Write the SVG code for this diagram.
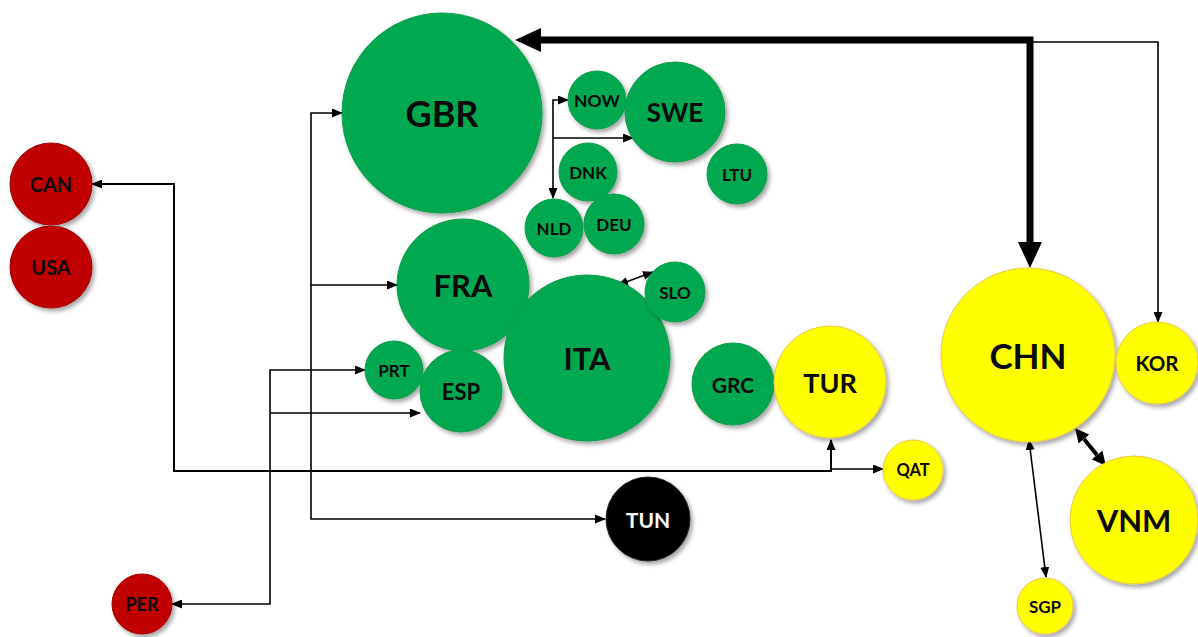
<svg xmlns="http://www.w3.org/2000/svg" width="1198" height="637" viewBox="0 0 1198 637">
<style>
.g{fill:#00A94F;stroke:#0E9B4A;stroke-width:1}
.y{fill:#FFFF00;stroke:#E8C84A;stroke-width:1}
.r{fill:#C00000;stroke:#A00000;stroke-width:1}
.k{fill:#000000;stroke:#222222;stroke-width:1}
.n circle{filter:url(#sh)}
text{font-family:Lato,"Open Sans","Liberation Sans",sans-serif;font-weight:bold;text-anchor:middle;dominant-baseline:central;fill:#0a0a0a}
.w{fill:#ffffff}
.c{fill:none;stroke:#000;stroke-width:1.6}
.c2{fill:none;stroke:#000;stroke-width:4}
.c3{fill:none;stroke:#000;stroke-width:7}
</style>
<defs>
<filter id="sh" x="-20%" y="-20%" width="150%" height="150%">
<feDropShadow dx="2.5" dy="3" stdDeviation="2.2" flood-color="#000" flood-opacity="0.35"/>
</filter>
<marker id="a" markerUnits="userSpaceOnUse" markerWidth="11" markerHeight="9" refX="10" refY="4.5" orient="auto-start-reverse"><path d="M0,0 L11,4.5 L0,9 z" fill="#000"/></marker>
<marker id="am" markerUnits="userSpaceOnUse" markerWidth="14" markerHeight="14" refX="0" refY="7" orient="auto-start-reverse"><path d="M0,0 L14,7 L0,14 z" fill="#000"/></marker>
<marker id="at" markerUnits="userSpaceOnUse" markerWidth="26" markerHeight="24" refX="0" refY="12" orient="auto-start-reverse"><path d="M0,0 L26,12 L0,24 z" fill="#000"/></marker>
</defs>
<g id="connectors">
<path class="c3" d="M541,40 L1030,40 L1030,242" marker-start="url(#at)" marker-end="url(#at)"/>
<path class="c" d="M1030,42 L1158,42 L1158,322" marker-end="url(#a)"/>
<path class="c" d="M342,113 L311,113 L311,519 L605,519" marker-start="url(#a)" marker-end="url(#a)"/>
<path class="c" d="M311,285 L397,285" marker-end="url(#a)"/>
<path class="c" d="M365,370 L270,370 L270,604 L172,604" marker-start="url(#a)" marker-end="url(#a)"/>
<path class="c" d="M270,413 L420,413" marker-end="url(#a)"/>
<path class="c" style="stroke-width:2" d="M92,184 L174,184 L174,471 L831,471 L831,440" marker-start="url(#a)" marker-end="url(#a)"/>
<path class="c" d="M831,469 L883,469" marker-end="url(#a)"/>
<path class="c" d="M568,100 L553,100 L553,198" marker-start="url(#a)" marker-end="url(#a)"/>
<path class="c" d="M553,138 L633,138" marker-end="url(#a)"/>
<path class="c" d="M618,285 L653,272" marker-start="url(#a)" marker-end="url(#a)"/>
<path class="c" d="M1029,440 L1046,577" marker-start="url(#a)" marker-end="url(#a)"/>
<path class="c2" d="M1084,439 L1097,455" marker-start="url(#am)" marker-end="url(#am)"/>
</g>
<g id="GBR" class="n"><circle class="g" cx="442" cy="113" r="100"/><text x="442" y="113" font-size="36">GBR</text></g>
<g id="NOW" class="n"><circle class="g" cx="597" cy="100" r="29"/><text x="597" y="100" font-size="17.5">NOW</text></g>
<g id="SWE" class="n"><circle class="g" cx="675" cy="112" r="50"/><text x="675" y="112" font-size="26">SWE</text></g>
<g id="DNK" class="n"><circle class="g" cx="588" cy="172" r="29"/><text x="588" y="172" font-size="17">DNK</text></g>
<g id="LTU" class="n"><circle class="g" cx="737" cy="174" r="30"/><text x="737" y="174" font-size="17">LTU</text></g>
<g id="NLD" class="n"><circle class="g" cx="554" cy="228" r="29"/><text x="554" y="228" font-size="17">NLD</text></g>
<g id="DEU" class="n"><circle class="g" cx="614" cy="224" r="30"/><text x="614" y="224" font-size="17">DEU</text></g>
<g id="FRA" class="n"><circle class="g" cx="463" cy="285" r="66"/><text x="463" y="285" font-size="31">FRA</text></g>
<g id="ITA" class="n"><circle class="g" cx="587" cy="358" r="83"/><text x="587" y="358" font-size="31">ITA</text></g>
<g id="SLO" class="n"><circle class="g" cx="675" cy="292" r="30"/><text x="675" y="292" font-size="17">SLO</text></g>
<g id="PRT" class="n"><circle class="g" cx="394" cy="370" r="29"/><text x="394" y="370" font-size="17">PRT</text></g>
<g id="ESP" class="n"><circle class="g" cx="461" cy="391" r="41"/><text x="461" y="391" font-size="22">ESP</text></g>
<g id="GRC" class="n"><circle class="g" cx="733" cy="384" r="41"/><text x="733" y="384" font-size="21">GRC</text></g>
<g id="TUR" class="n"><circle class="y" cx="830" cy="382" r="56"/><text x="830" y="382" font-size="27">TUR</text></g>
<g id="QAT" class="n"><circle class="y" cx="913" cy="470" r="30"/><text x="913" y="470" font-size="16.5">QAT</text></g>
<g id="TUN" class="n"><circle class="k" cx="648" cy="519" r="42"/><text class="w" x="648" y="519" font-size="21">TUN</text></g>
<g id="CAN" class="n"><circle class="r" cx="51" cy="184" r="41"/><text x="51" y="184" font-size="20">CAN</text></g>
<g id="USA" class="n"><circle class="r" cx="51" cy="267" r="41"/><text x="51" y="267" font-size="20">USA</text></g>
<g id="PER" class="n"><circle class="r" cx="142" cy="604" r="30"/><text x="142" y="604" font-size="18">PER</text></g>
<g id="CHN" class="n"><circle class="y" cx="1028" cy="355" r="87"/><text x="1028" y="355" font-size="35">CHN</text></g>
<g id="KOR" class="n"><circle class="y" cx="1157" cy="363" r="41"/><text x="1157" y="363" font-size="20.5">KOR</text></g>
<g id="VNM" class="n"><circle class="y" cx="1134" cy="520" r="64"/><text x="1134" y="520" font-size="31">VNM</text></g>
<g id="SGP" class="n"><circle class="y" cx="1045" cy="606" r="28"/><text x="1045" y="606" font-size="17">SGP</text></g>
</svg>
